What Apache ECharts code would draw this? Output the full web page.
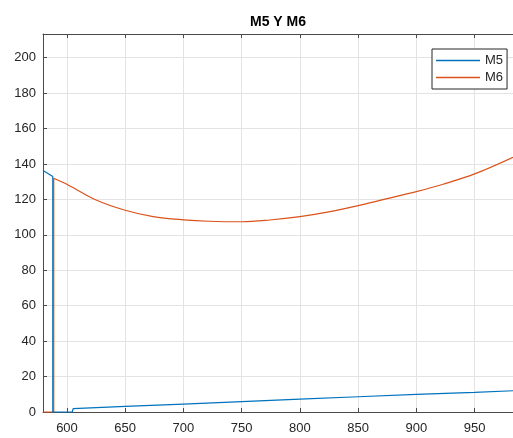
<!DOCTYPE html>
<html>
<head>
<meta charset="utf-8">
<script src="https://cdn.jsdelivr.net/npm/echarts@6/dist/echarts.min.js"></script>
<style>
  html, body { margin: 0; padding: 0; background: #fff; }
  #chart { width: 513px; height: 438px; }
</style>
</head>
<body>
<div id="chart"></div>
<script>
// Tick positions
const xTicks = [600, 650, 700, 750, 800, 850, 900, 950];
const yTicks = [0, 20, 40, 60, 80, 100, 120, 140, 160, 180, 200];

// M5 samples (x, value)
const m5X = [579.4, 587.8, 587.8, 604.5, 605.3, 650, 700, 750, 800, 850, 900, 950, 983];
const m5Y = [136.3, 132.9, 0, 0, 1.9, 3.2, 4.5, 5.9, 7.3, 8.6, 9.9, 11.1, 12.0];

// M6 samples (x, value)
const m6X = [579.4, 588.6, 588.6, 601, 625, 650, 674, 700, 722, 750, 774, 800, 826, 850, 874, 900, 923, 950, 983];
const m6Y = [0, 0, 132.0, 128.2, 119.7, 113.9, 110.3, 108.5, 107.7, 107.4, 108.4, 110.3, 113.1, 116.5, 120.3, 124.4, 128.6, 134.4, 143.8];
// index where the M6 step ends and the smooth curve begins
const m6StepEnd = 2;

const X_MIN = 579.4, X_MAX = 983;
const Y_MIN = 0, Y_MAX = 213.4;

const pairs = (xs, ys) => xs.map((x, i) => [x, ys[i]]);
const m6Pairs = pairs(m6X, m6Y);

const FONT = '"Liberation Sans", Arial, Helvetica, sans-serif';
const AXIS_COLOR = '#4a4a4a';
const TEXT_COLOR = '#262626';
const GRID_COLOR = '#e3e3e3';
const C_M5 = '#0072BD';
const C_M6 = '#D95319';

const chart = echarts.init(document.getElementById('chart'), null, { renderer: 'canvas' });

chart.setOption({
  animation: false,
  backgroundColor: '#fff',
  textStyle: { fontFamily: FONT },
  title: {
    text: 'M5 Y M6',
    left: 250,
    top: 15,
    padding: 0,
    textStyle: { fontFamily: FONT, fontSize: 14, fontWeight: 'bold', color: '#000' }
  },
  grid: { left: 43, right: 0, top: 34, bottom: 26, containLabel: false },
  legend: {
    orient: 'vertical',
    left: 432,
    top: 49,
    padding: [5, 4, 5, 4],
    itemGap: 4,
    itemWidth: 44,
    itemHeight: 1.5,
    icon: 'rect',
    borderColor: '#262626',
    borderWidth: 1,
    backgroundColor: '#fff',
    textStyle: { fontFamily: FONT, fontSize: 13, color: TEXT_COLOR, lineHeight: 13 },
    data: ['M5', 'M6']
  },
  xAxis: [
    {
      type: 'value',
      min: X_MIN,
      max: X_MAX,
      axisLine: { show: true, onZero: false, lineStyle: { color: AXIS_COLOR, width: 1 } },
      axisTick: { show: true, inside: true, length: 4, customValues: xTicks, lineStyle: { color: AXIS_COLOR } },
      axisLabel: { customValues: xTicks, margin: 10, fontFamily: FONT, fontSize: 13, color: TEXT_COLOR },
      splitLine: { show: true, lineStyle: { color: GRID_COLOR, width: 1 } }
    },
    {
      type: 'value',
      position: 'top',
      min: X_MIN,
      max: X_MAX,
      axisLine: { show: true, onZero: false, lineStyle: { color: AXIS_COLOR, width: 1 } },
      axisTick: { show: true, inside: true, length: 4, customValues: xTicks, lineStyle: { color: AXIS_COLOR } },
      axisLabel: { show: false },
      splitLine: { show: false }
    }
  ],
  yAxis: {
    type: 'value',
    min: Y_MIN,
    max: Y_MAX,
    axisLine: { show: true, onZero: false, lineStyle: { color: AXIS_COLOR, width: 1 } },
    axisTick: { show: true, inside: true, length: 4, customValues: yTicks, lineStyle: { color: AXIS_COLOR } },
    axisLabel: { customValues: yTicks, margin: 7, fontFamily: FONT, fontSize: 13, color: TEXT_COLOR },
    splitLine: { show: true, lineStyle: { color: GRID_COLOR, width: 1 } }
  },
  series: [
    {
      name: 'M5',
      type: 'line',
      xAxisIndex: 0,
      data: pairs(m5X, m5Y),
      showSymbol: false,
      symbol: 'none',
      clip: false,
      color: C_M5,
      lineStyle: { width: 1.2, color: C_M5 },
      z: 3
    },
    {
      // M6: flat start and the vertical step
      name: 'M6',
      type: 'line',
      xAxisIndex: 0,
      data: m6Pairs.slice(0, m6StepEnd + 1),
      showSymbol: false,
      symbol: 'none',
      clip: false,
      color: C_M6,
      lineStyle: { width: 1.2, color: C_M6 },
      z: 2
    },
    {
      // M6: smooth curve after the step
      name: 'M6',
      type: 'line',
      xAxisIndex: 0,
      data: m6Pairs.slice(m6StepEnd),
      smooth: 0.35,
      showSymbol: false,
      symbol: 'none',
      clip: false,
      color: C_M6,
      lineStyle: { width: 1.2, color: C_M6 },
      z: 2
    }
  ]
});
</script>
</body>
</html>
